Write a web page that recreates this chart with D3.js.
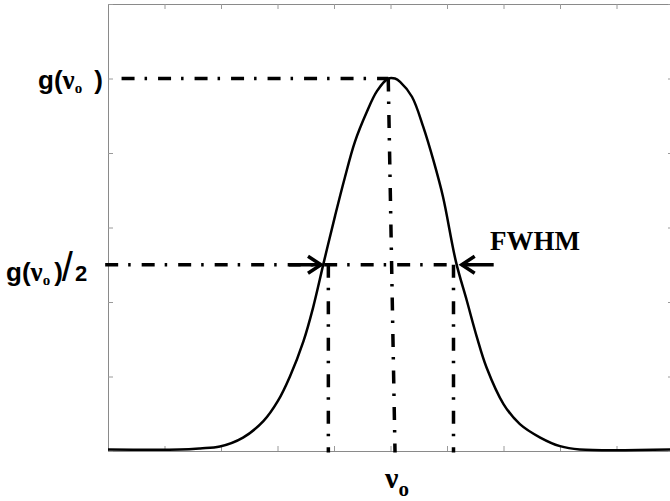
<!DOCTYPE html>
<html>
<head>
<meta charset="utf-8">
<script src="https://cdn.jsdelivr.net/npm/d3@7"></script>
<style>
  body { margin: 0; background: #fff; }
  .sans { font-family: "Liberation Sans", Arial, sans-serif; font-weight: bold; }
  .serif { font-family: "Liberation Serif", "Times New Roman", serif; font-weight: bold; }
</style>
</head>
<body>
<div id="chart"></div>
<script>
// line profile (x in axis units, y relative to peak)
var profileX = [0, 1.27, 1.63, 1.98, 2.39, 2.75, 3.01, 3.22, 3.46, 3.63, 3.82, 4.02, 4.19, 4.37, 4.58, 4.76, 4.96,
                5.08, 5.17, 5.38, 5.58, 5.76, 5.93, 6.16, 6.35, 6.53, 6.70, 7.00, 7.29, 7.65, 8.00, 8.35, 10];
var profileY = [0.004, 0.004, 0.007, 0.012, 0.036, 0.08, 0.135, 0.2, 0.295, 0.385, 0.507, 0.632, 0.733, 0.83, 0.91, 0.966, 1.0,
                1.0, 0.991, 0.951, 0.870, 0.780, 0.682, 0.507, 0.404, 0.305, 0.224, 0.126, 0.072, 0.036, 0.013, 0.004, 0.004];

var xTicks = [0, 1, 2, 3, 4, 5, 6, 7, 8, 9, 10];
var yTicks = [0, 0.2, 0.4, 0.6, 0.8, 1.0, 1.2];

// marker positions
var peakValue = 1.0;
var halfValue = 0.5;
var centreTop = 4.96, centreBottom = 5.08;
var halfLeft = 3.90, halfRight = 6.115;
var halfLeftCross = 3.82, halfRightCross = 6.16;

var width = 670, height = 501;
var margin = {top: 4, left: 108};
var plotW = 565, plotH = 447;

var svg = d3.select("#chart").append("svg")
  .attr("width", width)
  .attr("height", height);

var g = svg.append("g")
  .attr("transform", "translate(" + margin.left + "," + margin.top + ")");

var x = d3.scaleLinear().domain([0, 10]).range([0, plotW]);
var y = d3.scaleLinear().domain([0, 1.2]).range([plotH, 0]);

// box with inward ticks on all four sides
function styleAxis(sel) {
  sel.select(".domain").attr("stroke", "#8a8a8a").attr("stroke-width", 1);
  sel.selectAll(".tick line").attr("stroke", "#9a9a9a");
}
g.append("g").attr("transform", "translate(0," + plotH + ")")
  .call(d3.axisBottom(x).tickValues(xTicks).tickSizeInner(-5).tickSizeOuter(0).tickFormat(""))
  .call(styleAxis);
g.append("g")
  .call(d3.axisTop(x).tickValues(xTicks).tickSizeInner(-5).tickSizeOuter(0).tickFormat(""))
  .call(styleAxis);
g.append("g")
  .call(d3.axisLeft(y).tickValues(yTicks).tickSizeInner(-5).tickSizeOuter(0).tickFormat(""))
  .call(styleAxis);
g.append("g").attr("transform", "translate(" + plotW + ",0)")
  .call(d3.axisRight(y).tickValues(yTicks).tickSizeInner(-5).tickSizeOuter(0).tickFormat(""))
  .call(styleAxis);

// dash-dot guides
var dashDot = "13,10,2.5,11";
function guide(x1, y1, x2, y2) {
  g.append("line")
    .attr("x1", x(x1)).attr("y1", y(y1))
    .attr("x2", x(x2)).attr("y2", y(y2))
    .attr("stroke", "#000")
    .attr("stroke-width", 3.5)
    .attr("stroke-dasharray", dashDot);
}
guide(0.24, peakValue, centreTop, peakValue);
guide(-0.05, halfValue, halfRightCross, halfValue);
guide(centreTop, peakValue, centreBottom, -0.004);
guide(halfLeft, halfValue, halfLeft, -0.004);
guide(halfRight, halfValue, halfRight, -0.004);

// the profile
var pts = profileX.map(function(d, i) { return [d, profileY[i]]; });
var line = d3.line()
  .x(function(d) { return x(d[0]); })
  .y(function(d) { return y(d[1]); })
  .curve(d3.curveCatmullRom.alpha(0.5));

g.append("path")
  .datum(pts)
  .attr("fill", "none")
  .attr("stroke", "#000")
  .attr("stroke-width", 2.5)
  .attr("stroke-linejoin", "round")
  .attr("d", line);

// FWHM arrows
function arrow(tip, dir) {
  var tx = x(tip), ty = y(halfValue);
  g.append("line")
    .attr("x1", tx).attr("y1", ty)
    .attr("x2", tx - dir * 32).attr("y2", ty)
    .attr("stroke", "#000").attr("stroke-width", 3.5);
  g.append("path")
    .attr("d", "M" + (tx - dir * 13) + "," + (ty - 8.5) + "L" + tx + "," + ty + "L" + (tx - dir * 13) + "," + (ty + 8.5))
    .attr("fill", "none").attr("stroke", "#000").attr("stroke-width", 3.5);
}
arrow(halfLeftCross - 0.05, 1);
arrow(halfRightCross + 0.1, -1);

// labels
var t1 = svg.append("text").attr("x", 38).attr("y", 89);
t1.append("tspan").attr("class", "sans").style("font-size", "26px").text("g(");
t1.append("tspan").attr("class", "serif").style("font-size", "27px").text("\u03bd");
t1.append("tspan").attr("class", "serif").style("font-size", "15px").attr("dy", 4).text("o");
t1.append("tspan").attr("class", "sans").style("font-size", "26px").attr("dy", -4).attr("dx", 12).text(")");

var t2 = svg.append("text").attr("x", 6).attr("y", 281);
t2.append("tspan").attr("class", "sans").style("font-size", "26px").text("g(");
t2.append("tspan").attr("class", "serif").style("font-size", "27px").text("\u03bd");
t2.append("tspan").attr("class", "serif").style("font-size", "15px").attr("dy", 4).text("o");
t2.append("tspan").attr("class", "sans").style("font-size", "26px").attr("dy", -4).attr("dx", 4).text(")");
t2.append("tspan").attr("class", "sans").style("font-size", "40px").style("font-weight", "normal").attr("dx", -1).text("/");
t2.append("tspan").attr("class", "sans").style("font-size", "22px").attr("dx", 2).text("2");

var t3 = svg.append("text").attr("x", 385).attr("y", 488);
t3.append("tspan").attr("class", "serif").style("font-size", "30px").text("\u03bd");
t3.append("tspan").attr("class", "serif").style("font-size", "21px").attr("dy", 8).text("o");

svg.append("text")
  .attr("class", "serif")
  .attr("x", 490).attr("y", 250)
  .style("font-size", "27px")
  .text("FWHM");
</script>
</body>
</html>
